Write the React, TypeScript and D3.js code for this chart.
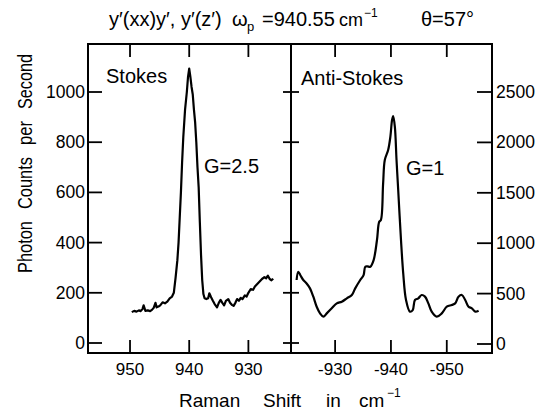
import React from "react";
import * as d3 from "d3";

// ---- data ----
const stokesShift = [
  949.7, 949.3, 948.9, 948.5, 948.2, 947.9, 947.7, 947.4, 947.0, 946.6,
  946.3, 946.0, 945.7, 945.5, 945.2, 944.9, 944.5, 944.1, 943.7, 943.3,
  942.9, 942.6, 942.3, 942.0, 941.8, 941.6, 941.4, 941.2, 941.0, 940.7,
  940.4, 940.2, 940.0, 939.8, 939.6, 939.4, 939.2, 939.0, 938.8, 938.6,
  938.4, 938.2, 938.0, 937.8, 937.6, 937.4, 937.1, 936.8, 936.6, 936.3,
  936.0, 935.7, 935.3, 935.0, 934.7, 934.4, 934.1, 933.8, 933.4, 933.1,
  932.8, 932.5, 932.2, 931.9, 931.6, 931.3, 931.0, 930.6, 930.3, 930.0,
  929.6, 929.2, 928.9, 928.5, 928.1, 927.7, 927.3, 927.0, 926.7, 926.4,
  926.1, 925.8,
];
const stokesCounts = [
  123, 128, 125, 130, 127, 135, 150, 128, 130, 127,
  132, 140, 160, 142, 145, 150, 162, 158, 165, 178,
  185, 200, 260, 330, 400, 500, 600, 720, 820, 930,
  1000, 1060, 1093, 1060, 1020, 990, 930, 880, 800, 700,
  620, 480, 350, 250, 195, 178, 175, 178, 198, 182,
  168, 155, 142, 160, 172, 160, 150, 168, 175, 160,
  152, 148, 160, 175, 168, 180, 175, 190, 185, 200,
  215, 212, 225, 235, 245, 255, 262, 258, 268, 255,
  250, 256,
];
const antiShift = [
  -923.1, -923.4, -923.8, -924.3, -924.9, -925.5, -926.1, -926.7, -927.3, -927.9,
  -928.5, -929.4, -930.3, -931.2, -932.1, -933.0, -933.6, -934.5, -935.1, -935.4,
  -935.8, -936.3, -936.9, -937.5, -937.9, -938.2, -938.6, -938.9, -939.5, -939.9,
  -940.2, -940.4, -940.7, -941.0, -941.3, -941.8, -942.2, -942.7, -943.4, -943.9,
  -944.3, -944.9, -945.5, -946.1, -946.7, -947.3, -948.2, -949.1, -950.0, -950.9,
  -951.5, -952.1, -952.7, -953.3, -953.9, -954.5, -955.1, -955.7,
];
const antiCounts = [
  635, 717, 680, 635, 600, 552, 469, 370, 304, 271,
  304, 354, 403, 420, 453, 486, 552, 635, 684, 767,
  770, 767, 833, 1032, 1213, 1230, 1594, 1825, 1924, 2057,
  2222, 2262, 2156, 1825, 1528, 1032, 701, 437, 321, 337,
  437, 453, 486, 470, 403, 321, 271, 304, 370, 387,
  403, 469, 486, 437, 370, 354, 321, 330,
];
const leftXTicks = [950, 940, 930];
const rightXTicks = [-930, -940, -950];
const leftXLabels = ["950", "940", "930"];
const rightXLabels = ["-930", "-940", "-950"];
const leftYTicks = [0, 200, 400, 600, 800, 1000];
const rightYTicks = [0, 500, 1000, 1500, 2000, 2500];
const yTitleWords = ["Photon", "Counts", "per", "Second"];

// ---- layout ----
const W = 544, H = 410;
const L = 88, R = 492, T = 44, B = 353, MID = 291;
const FONT = "'Liberation Sans', Arial, sans-serif";
// y-title word placement (start along the rotated baseline, length)
const yTitleLayout = [
  { start: 273, len: 52 },
  { start: 209, len: 52 },
  { start: 145, len: 24 },
  { start: 109, len: 55 },
];

export default function App() {
  const xL = d3.scaleLinear().domain([957.1, 922.8]).range([L, MID]);
  const xR = d3.scaleLinear().domain([-922.1, -958.1]).range([MID, R]);
  const yL = d3.scaleLinear().domain([0, 1000]).range([343, 92]);
  const yR = d3.scaleLinear().domain([0, 2500]).range([344, 92]);

  const stokes = d3.zip(stokesShift, stokesCounts) as [number, number][];
  const anti = d3.zip(antiShift, antiCounts) as [number, number][];

  const lineL = d3.line<[number, number]>().x((d) => xL(d[0])).y((d) => yL(d[1]));
  const lineR = d3
    .line<[number, number]>()
    .x((d) => xR(d[0]))
    .y((d) => yR(d[1]))
    .curve(d3.curveCatmullRom);

  const tickW = 1.8;
  const xTickLen = 13;

  return (
    <svg
      width={W}
      height={H}
      style={{ position: "absolute", left: 0, top: 0, background: "#fff" }}
      fontFamily={FONT}
    >
      <rect x={0} y={0} width={W} height={H} fill="#fff" />
      {/* title */}
      <text x={109} y={26} fontSize={20}>y′(xx)y′, y′(z′)</text>
      <text x={232} y={26} fontSize={20}>ω</text>
      <text x={247} y={31} fontSize={13}>p</text>
      <text x={262} y={26} fontSize={20}>=940.55</text>
      <text x={339} y={26} fontSize={18}>cm</text>
      <text x={364} y={17} fontSize={12}>−1</text>
      <text x={421} y={26} fontSize={20}>θ=57°</text>

      {/* frame */}
      <rect x={L} y={T} width={R - L} height={B - T} fill="none" stroke="#000" strokeWidth={2} />
      <line x1={MID} x2={MID} y1={T} y2={B} stroke="#000" strokeWidth={2} />

      {/* x ticks: bottom and top, inward */}
      {leftXTicks.map((t, i) => (
        <g key={"lx" + t}>
          <line x1={xL(t)} x2={xL(t)} y1={B} y2={B - xTickLen} stroke="#000" strokeWidth={tickW} />
          <line x1={xL(t)} x2={xL(t)} y1={T} y2={T + xTickLen} stroke="#000" strokeWidth={tickW} />
          <text x={xL(t)} y={375} fontSize={17} textAnchor="middle">{leftXLabels[i]}</text>
        </g>
      ))}
      {rightXTicks.map((t, i) => (
        <g key={"rx" + t}>
          <line x1={xR(t)} x2={xR(t)} y1={B} y2={B - xTickLen} stroke="#000" strokeWidth={tickW} />
          <line x1={xR(t)} x2={xR(t)} y1={T} y2={T + xTickLen} stroke="#000" strokeWidth={tickW} />
          <text x={xR(t)} y={375} fontSize={17} textAnchor="middle">{rightXLabels[i]}</text>
        </g>
      ))}

      {/* left y ticks + divider ticks */}
      {leftYTicks.map((t) => (
        <g key={"ly" + t}>
          <line x1={L} x2={L + 14} y1={yL(t)} y2={yL(t)} stroke="#000" strokeWidth={tickW} />
          <line x1={MID - 8} x2={MID + 8} y1={yL(t)} y2={yL(t)} stroke="#000" strokeWidth={tickW} />
          <text x={85} y={yL(t) + 6} fontSize={17.5} textAnchor="end">{t}</text>
        </g>
      ))}
      {/* right y ticks */}
      {rightYTicks.map((t) => (
        <g key={"ry" + t}>
          <line x1={R - 15} x2={R} y1={yR(t)} y2={yR(t)} stroke="#000" strokeWidth={tickW} />
          <text x={496} y={yR(t) + 6} fontSize={17.5} textAnchor="start">{t}</text>
        </g>
      ))}

      {/* curves */}
      <path d={lineL(stokes) || ""} fill="none" stroke="#000" strokeWidth={2.2} strokeLinejoin="round" />
      <path d={lineR(anti) || ""} fill="none" stroke="#000" strokeWidth={2.2} strokeLinejoin="round" />

      {/* annotations */}
      <text x={106} y={83} fontSize={20}>Stokes</text>
      <text x={204} y={173} fontSize={20}>G=2.5</text>
      <text x={301} y={85} fontSize={20}>Anti-Stokes</text>
      <text x={406} y={175} fontSize={20}>G=1</text>

      {/* axis titles */}
      <text x={179} y={407} fontSize={19}>Raman</text>
      <text x={263} y={407} fontSize={19}>Shift</text>
      <text x={326} y={407} fontSize={19}>in</text>
      <text x={359} y={407} fontSize={19}>cm</text>
      <text x={387} y={397} fontSize={12}>−1</text>

      {yTitleWords.map((w, i) => (
        <g key={w} transform={`translate(32,${yTitleLayout[i].start}) rotate(-90)`}>
          <text
            x={0}
            y={0}
            fontSize={21}
            textLength={yTitleLayout[i].len}
            lengthAdjust="spacingAndGlyphs"
          >
            {w}
          </text>
        </g>
      ))}
    </svg>
  );
}
